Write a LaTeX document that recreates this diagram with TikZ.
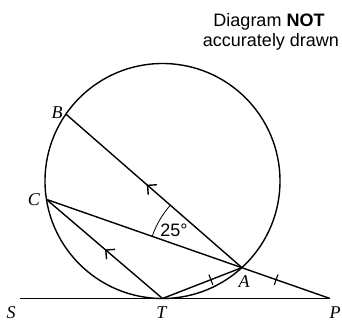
\documentclass[tikz,border=0pt]{standalone}
\usepackage{fontspec}
\setmainfont{Liberation Serif}
\newfontfamily\notefont{Liberation Sans}
\usetikzlibrary{arrows.meta,decorations.markings}

\begin{document}
\begin{tikzpicture}[x=1pt,y=1pt,line width=1.4pt,
    ptlabel/.style={font=\fontsize{18}{20}\selectfont\itshape,inner sep=0pt},
    notetext/.style={font=\notefont\fontsize{18}{20}\selectfont,inner sep=0pt,anchor=base},
    parmark/.style={postaction={decorate},decoration={markings,
        mark=at position #1 with {\arrow{Straight Barb[length=6.5pt,width=13pt]}}}},
    tickmark/.style={postaction={decorate},decoration={markings,
        mark=at position #1 with {\draw[line width=1.1pt] (0,-5.5) -- (0,5.5);}}}]
    \useasboundingbox (0,0) rectangle (342,322);

    % Define the circle and the points on it
    % T is where the line SP touches the circle
    \coordinate (O) at (162.5,141);
    \coordinate (T) at (162.5,23.5);
    \coordinate (B) at ([shift={(145.3:117.5)}]O);
    \coordinate (C) at ([shift={(189:117.5)}]O);
    \coordinate (A) at ([shift={(-47.5:117.5)}]O);
    \coordinate (S) at (19.5,23.5);
    \coordinate (P) at (330,23.5);

    % Draw the circle and the tangent
    \draw (O) circle (117.5);
    \draw[line width=1.8pt] (S) -- (P);

    % Chords, with the parallel marks on BA and CT
    \draw[parmark=0.54] (A) -- (B);
    \draw[parmark=0.495] (T) -- (C);
    \draw[tickmark=0.81] (C) -- (P);
    \draw[tickmark=0.61] (T) -- (A);

    % Angle BAC
    \draw[line width=0.8pt] ([shift={(138.9:95)}]A) arc[start angle=138.9,end angle=160.7,radius=95];
    \node (ang) at (174,92) [notetext,anchor=center] {25°};

    % Labels
    \node (lblB) at (57,209) [ptlabel] {B};
    \node (lblC) at (34,122) [ptlabel] {C};
    \node (lblA) at (244,40) [ptlabel] {A};
    \node (lblS) at (11,9) [ptlabel] {S};
    \node (lblT) at (161.5,9) [ptlabel] {T};
    \node (lblP) at (335,9) [ptlabel] {P};

    % Note
    \node (note1) at (269,295.3) [notetext] {Diagram \textbf{NOT}};
    \node (note2) at (271,276) [notetext] {accurately drawn};
\end{tikzpicture}
\end{document}
